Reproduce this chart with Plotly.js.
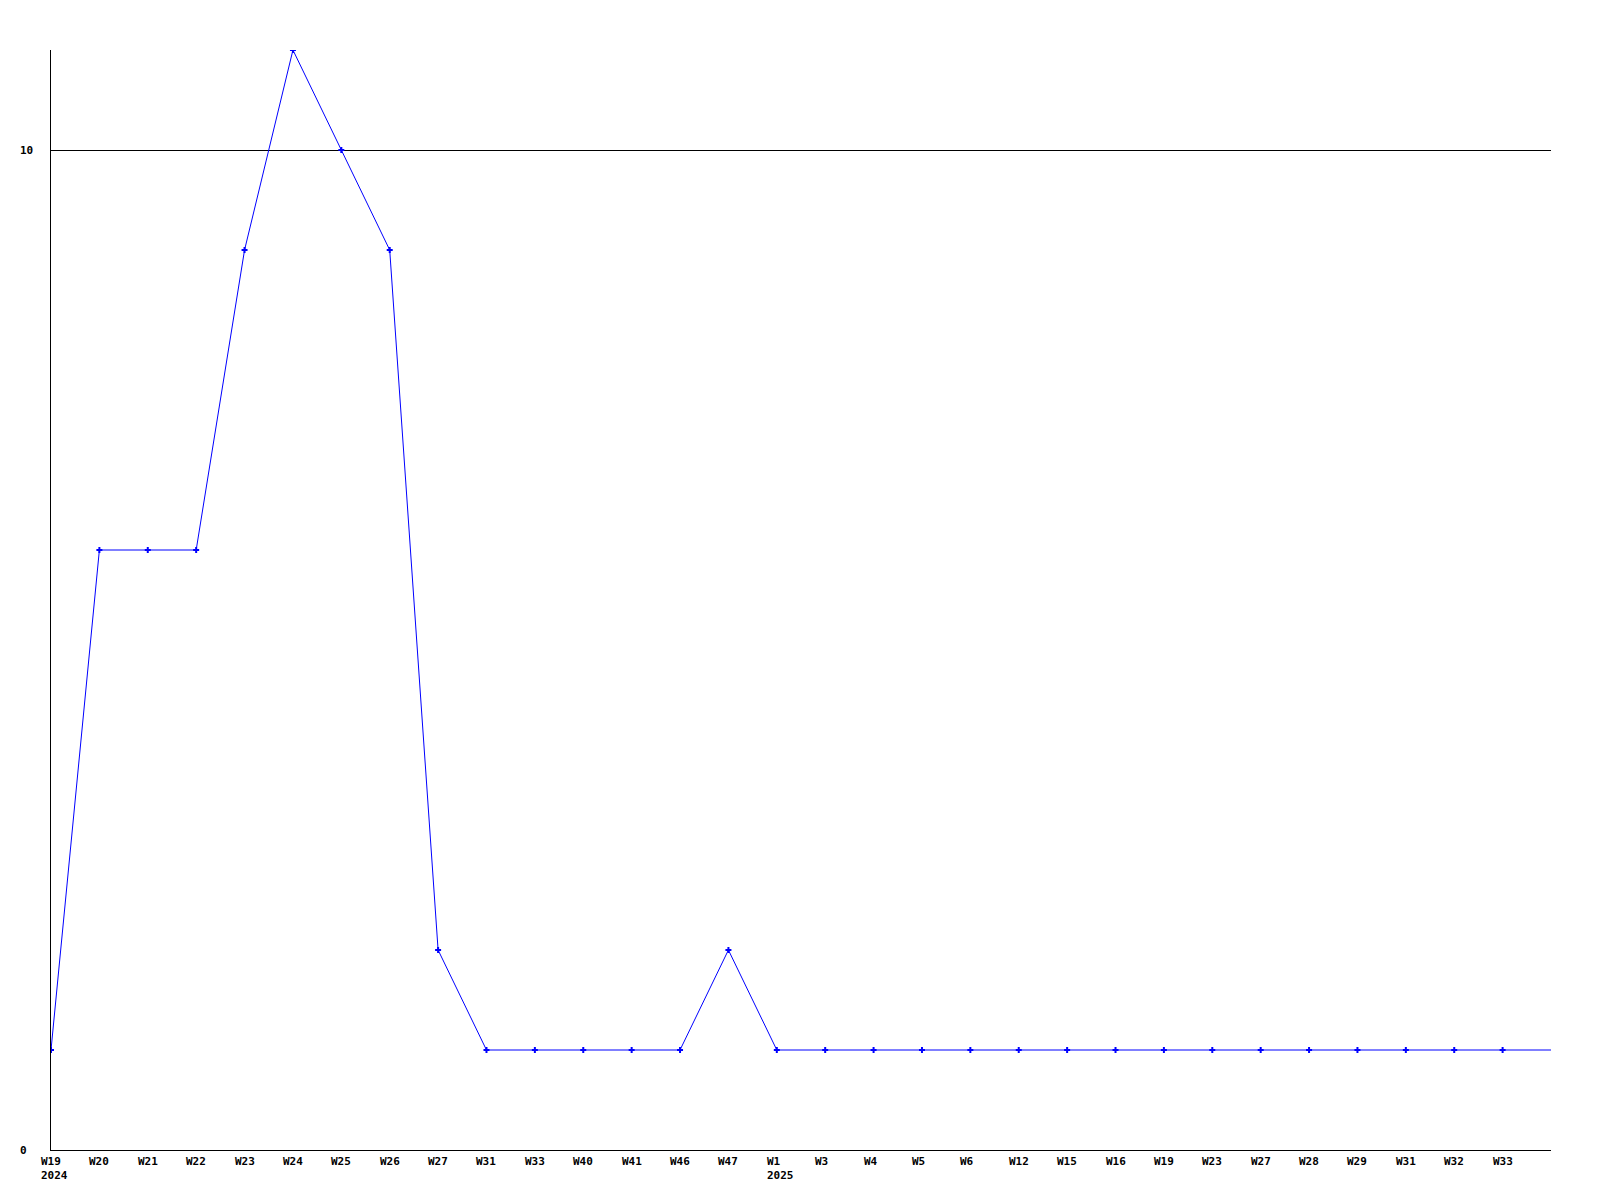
<!DOCTYPE html>
<html>
<head>
<meta charset="utf-8">
<script src="https://cdn.plot.ly/plotly-3.0.1.min.js"></script>
<style>html,body{margin:0;padding:0;background:#fff;}#chart{width:1600px;height:1200px;}</style>
</head>
<body>
<div id="chart"></div>
<script>
// Week labels and the year shown under the first week of each year
const weeks = ["W19","W20","W21","W22","W23","W24","W25","W26","W27","W31","W33","W40","W41","W46","W47",
               "W1","W3","W4","W5","W6","W12","W15","W16","W19","W23","W27","W28","W29","W31","W32","W33"];
const years = ["2024","","","","","","","","","","","","","","",
               "2025","","","","","","","","","","","","","","",""];
const values = [1,6,6,6,9,11,10,9,2,1,1,1,1,1,2,1,1,1,1,1,1,1,1,1,1,1,1,1,1,1,1];
// the line runs on past the last plotted week to the plot's right edge
const nextValue = 1;
const yTicks = [0, 10];

const idx = weeks.map((_, i) => i);
const lineX = idx.concat([weeks.length]);
const lineY = values.concat([nextValue]);

const font = {family: "DejaVu Sans Mono, Liberation Mono, monospace", size: 11, color: "#000"};

const annotations = [];
weeks.forEach((w, i) => {
  annotations.push({
    x: i, xref: "x", y: 0, yref: "paper",
    text: "<b>" + w + (years[i] ? "<br>" + years[i] : "") + "</b>",
    showarrow: false, xanchor: "left", yanchor: "top", align: "left",
    xshift: -12, yshift: -3, font: font
  });
});
yTicks.forEach(v => {
  annotations.push({
    x: 0, xref: "paper", y: v, yref: "y",
    text: "<b>" + v + "</b>", showarrow: false,
    xanchor: "left", yanchor: "middle", xshift: -33, font: font
  });
});

const data = [
  {x: lineX, y: lineY, mode: "lines", line: {color: "#0000ff", width: 1}, hoverinfo: "skip", showlegend: false},
  {x: idx, y: values, mode: "markers", marker: {symbol: "cross", size: 5, color: "#0000ff"}, showlegend: false}
];

const layout = {
  width: 1600, height: 1200,
  margin: {l: 51, r: 49, t: 50, b: 50},
  paper_bgcolor: "#fff", plot_bgcolor: "#fff",
  showlegend: false,
  xaxis: {range: [0, weeks.length], showgrid: false, zeroline: false, showticklabels: false, ticks: "",
          showline: true, linecolor: "#000", linewidth: 1},
  yaxis: {range: [0, 11], tickvals: yTicks, showgrid: true, gridcolor: "#000", gridwidth: 1,
          zeroline: false, showticklabels: false, ticks: "",
          showline: true, linecolor: "#000", linewidth: 1},
  annotations: annotations
};

Plotly.newPlot("chart", data, layout, {staticPlot: true});
</script>
</body>
</html>
